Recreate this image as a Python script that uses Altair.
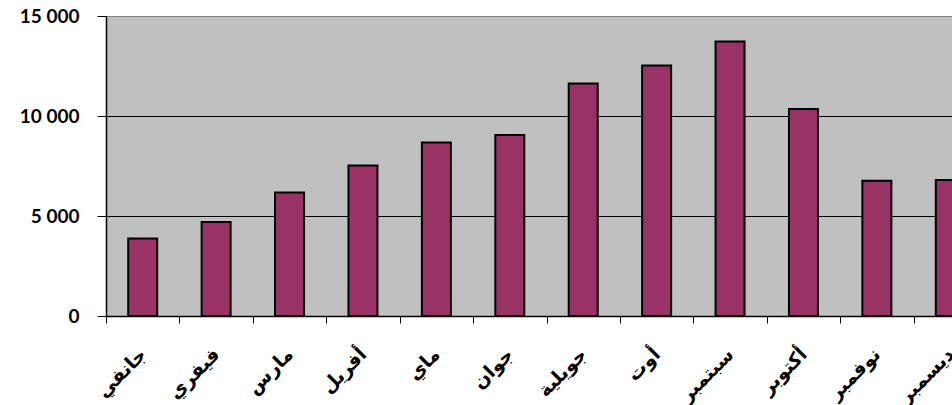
import altair as alt
import pandas as pd

months = ["جانفي", "فيفري", "مارس", "أفريل", "ماي", "جوان",
          "جويلية", "أوت", "سبتمبر", "أكتوبر", "نوفمبر", "ديسمبر"]
values = [3870, 4700, 6170, 7520, 8680, 9050, 11620, 12520, 13730, 10350, 6760, 6800]
y_ticks = [0, 5000, 10000, 15000]

df = pd.DataFrame({"month": months, "value": values})

bars = alt.Chart(df).mark_bar(
    color="#993366", stroke="black", strokeWidth=2, width=29
).encode(
    x=alt.X("month:N", sort=months, title=None,
            scale=alt.Scale(range=[0, 881], paddingInner=0, paddingOuter=0),
            axis=alt.Axis(labelAngle=-45, labelAlign="right", labelBaseline="middle",
                          tickBand="extent", tickSize=7, tickColor="black",
                          domainColor="black", domainWidth=1.5,
                          labelFont="DejaVu Sans", labelFontSize=19, labelFontWeight="bold",
                          labelColor="black", labelPadding=28, labelOverlap=False,
                          labelBound=False, labelFlush=False)),
    y=alt.Y("value:Q", title=None,
            scale=alt.Scale(domain=[0, 15000], nice=False),
            axis=alt.Axis(values=y_ticks,
                          labelExpr="replace(format(datum.value, ','), regexp(',', 'g'), ' ')",
                          grid=True,
                          gridColor=alt.condition("datum.value == 15000", alt.value("#808080"), alt.value("black")),
                          gridWidth=1.2, domainColor="black", domainWidth=1.5,
                          tickSize=9, tickColor="black", labelPadding=18,
                          labelFont="Lato", labelFontSize=19, labelFontWeight="bold",
                          labelColor="black"))
)

chart = bars.properties(
    width=846, height=300,
    padding={"left": 106, "top": 16, "right": 0, "bottom": 89},
    autosize=alt.AutoSizeParams(type="none"),
    background="white"
).configure_view(fill="#C0C0C0", stroke=None)

chart.save("out.html", embed_options={"renderer": "svg", "actions": False})
